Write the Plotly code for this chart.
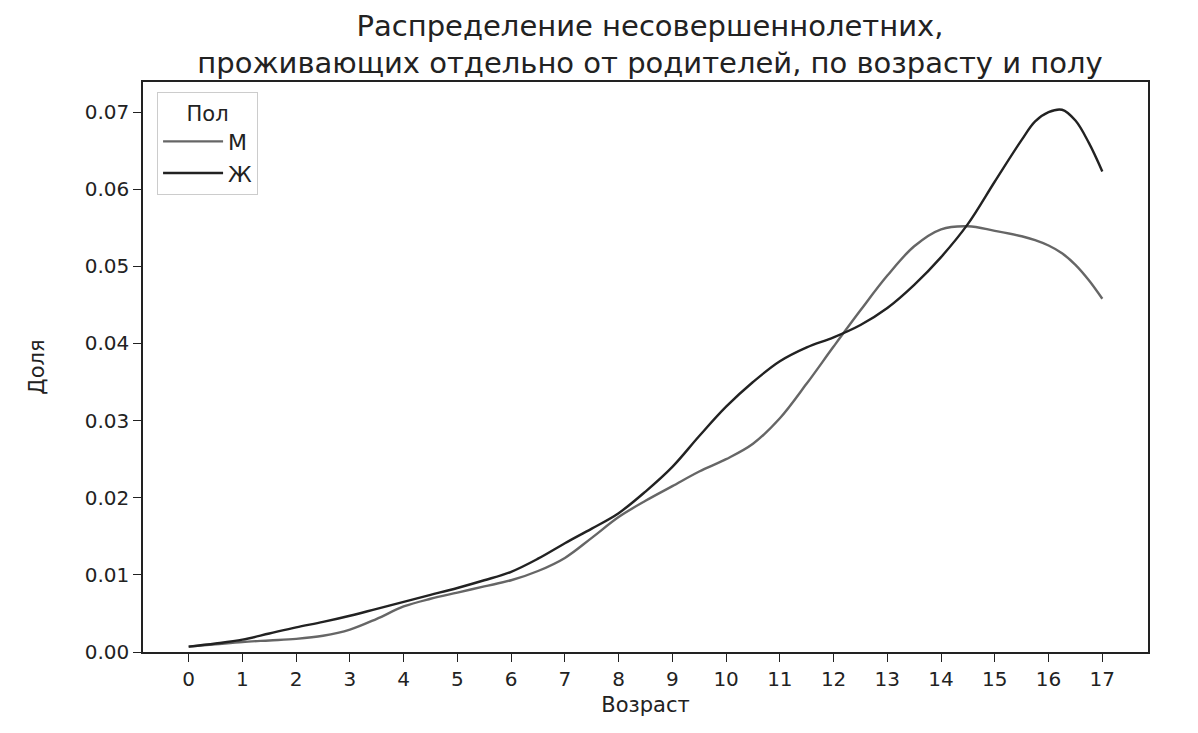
import plotly.graph_objects as go

# Возраст и доли
ages = [0, 0.5, 1, 1.5, 2, 2.5, 3, 3.5, 4, 4.5, 5, 5.5, 6, 6.5, 7, 7.5, 8, 8.5,
	9, 9.5, 10, 10.5, 11, 11.5, 12, 12.5, 13, 13.5, 14, 14.5, 15, 15.5, 15.75,
	16, 16.25, 16.5, 16.75, 17]

share_m = [0.0007, 0.0010, 0.0013, 0.0015, 0.0017, 0.0021, 0.0029, 0.0043, 0.0059, 0.0069,
	0.0077, 0.0085, 0.0093, 0.0105, 0.0122, 0.0148, 0.0175, 0.0196,
	0.0215, 0.0234, 0.0250, 0.0270, 0.0303, 0.0348, 0.0396, 0.0443, 0.0488, 0.0526,
	0.0548, 0.0552, 0.0546, 0.0539, 0.0534,
	0.0527, 0.0517, 0.0502, 0.0482, 0.0458]

share_f = [0.0007, 0.0011, 0.0016, 0.0024, 0.0032, 0.0039, 0.0047, 0.0056, 0.0065, 0.0074,
	0.0083, 0.0093, 0.0104, 0.0121, 0.0141, 0.0160, 0.0180, 0.0208,
	0.0240, 0.0280, 0.0318, 0.0350, 0.0377, 0.0395, 0.0408, 0.0424, 0.0446, 0.0476,
	0.0512, 0.0555, 0.0610, 0.0664, 0.0688,
	0.0700, 0.0703, 0.0689, 0.0660, 0.0623]

series_names = ["М", "Ж"]
series_colors = ["#666666", "#222222"]

x_ticks = list(range(0, 18))
y_ticks = [0.0, 0.01, 0.02, 0.03, 0.04, 0.05, 0.06, 0.07]

FONT = "DejaVu Sans"

def main():
	fig = go.Figure()

	for name, values, color in zip(series_names, [share_m, share_f], series_colors):
		fig.add_trace(go.Scatter(
			x = ages,
			y = values,
			mode = "lines",
			name = name,
			line = dict(color = color, width = 2.4, shape = "spline", smoothing = 1.0)
		))

	axis_common = dict(
		showline = True,
		linecolor = "#222222",
		linewidth = 1.6,
		mirror = True,
		showgrid = False,
		zeroline = False,
		ticks = "outside",
		ticklen = 8,
		tickwidth = 1.4,
		tickcolor = "#222222",
		tickfont = dict(family = FONT, size = 20, color = "#222222"),
	)

	fig.update_layout(
		width = 1190,
		height = 725,
		paper_bgcolor = "white",
		plot_bgcolor = "white",
		margin = dict(l = 135, r = 50, t = 74, b = 81),
		title = go.layout.Title(
			text = "Распределение несовершеннолетних,<br>проживающих отдельно от родителей, по возрасту и полу",
			x = 0.5395,
			xanchor = "center",
			y = 0.962,
			yanchor = "middle",
			font = dict(family = FONT, size = 29, color = "#222222")
		),
		xaxis = go.layout.XAxis(
			title = dict(text = "Возраст", font = dict(family = FONT, size = 21, color = "#222222"), standoff = 8),
			range = [-0.85, 17.85],
			tickmode = "array",
			tickvals = x_ticks,
			**axis_common
		),
		yaxis = go.layout.YAxis(
			title = dict(text = "Доля", font = dict(family = FONT, size = 21, color = "#222222"), standoff = 34),
			range = [0, 0.0739],
			tickmode = "array",
			tickvals = y_ticks,
			tickformat = ".2f",
			**axis_common
		),
		legend = dict(
			title = dict(text = "Пол", side = "top center", font = dict(family = FONT, size = 21, color = "#222222")),
			x = 0.014,
			y = 0.982,
			xanchor = "left",
			yanchor = "top",
			bgcolor = "rgba(255,255,255,0.8)",
			bordercolor = "#cccccc",
			borderwidth = 1,
			font = dict(family = FONT, size = 22, color = "#222222"),
			itemwidth = 60
		),
		showlegend = True
	)

	fig.write_html("out.html")


if __name__ == "__main__":
	main()
